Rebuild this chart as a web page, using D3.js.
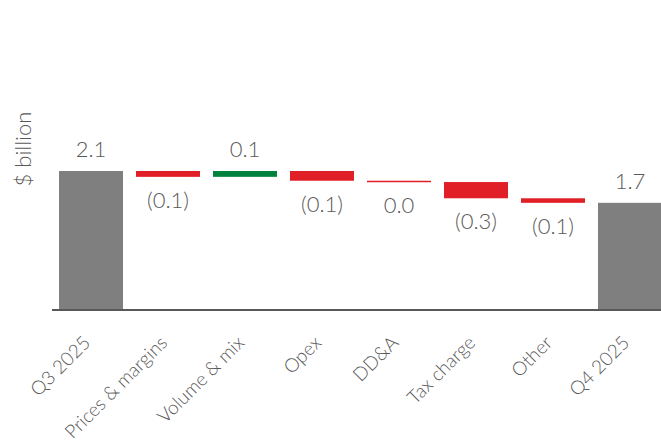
<!DOCTYPE html>
<html>
<head>
<meta charset="utf-8">
<script src="https://cdn.jsdelivr.net/npm/d3@7"></script>
<style>
  html, body { margin: 0; padding: 0; background: #fff; }
  svg { display: block; }
  text { font-family: "Lato", "DejaVu Sans", sans-serif; font-weight: 300; fill: #595959; }
</style>
</head>
<body>
<svg id="chart" width="661" height="447"></svg>
<script>
const categories = ["Q3 2025", "Prices & margins", "Volume & mix", "Opex", "DD&A", "Tax charge", "Other", "Q4 2025"];
const kinds      = ["total", "delta", "delta", "delta", "delta", "delta", "delta", "total"];
const values     = [2.14, -0.09, 0.09, -0.15, -0.02, -0.25, -0.07, 1.65];
const valueLabels = ["2.1", "(0.1)", "0.1", "(0.1)", "0.0", "(0.3)", "(0.1)", "1.7"];
const yAxisTitle = "$ billion";

const colors = { total: "#7f7f7f", up: "#00843d", down: "#e01f26" };

const svg = d3.select("#chart");

let running = 0;
const bars = categories.map((c, i) => {
  let start, end;
  if (kinds[i] === "total") { start = 0; end = values[i]; running = values[i]; }
  else { start = running; end = running + values[i]; running = end; }
  return { cat: c, kind: kinds[i], v: values[i], start, end, label: valueLabels[i] };
});

const x = d3.scaleBand().domain(categories).range([52.5, 668.5]).paddingInner(0.169).paddingOuter(0.0845);
const y = d3.scaleLinear().domain([0, 2.14]).range([310, 171]);

svg.append("g").selectAll("rect").data(bars).join("rect")
  .attr("x", d => x(d.cat))
  .attr("width", x.bandwidth())
  .attr("y", d => y(Math.max(d.start, d.end)))
  .attr("height", d => Math.max(1.5, Math.abs(y(d.start) - y(d.end))))
  .attr("fill", d => d.kind === "total" ? colors.total : (d.v >= 0 ? colors.up : colors.down));

svg.append("g").selectAll("text").data(bars).join("text")
  .attr("x", d => x(d.cat) + x.bandwidth() / 2)
  .attr("y", d => (d.kind === "total" || d.v >= 0)
      ? y(Math.max(d.start, d.end)) - 14
      : y(Math.min(d.start, d.end)) + 31)
  .attr("text-anchor", "middle")
  .attr("font-size", 22)
  .text(d => d.label);

const xAxis = d3.axisBottom(x).tickSize(0).tickPadding(0);
const gx = svg.append("g").attr("transform", "translate(0,310)").call(xAxis);
gx.select(".domain").attr("stroke", "#595959").attr("stroke-width", 2)
  .attr("d", "M52,0H661");
gx.selectAll(".tick text")
  .attr("font-size", 19)
  .attr("fill", "#595959")
  .attr("font-family", null)
  .attr("text-anchor", "end")
  .attr("dy", 0)
  .attr("y", 0)
  .attr("transform", "translate(0.5,34) rotate(-45)");

svg.append("text")
  .attr("transform", "translate(31,149) rotate(-90)")
  .attr("text-anchor", "middle")
  .attr("font-size", 22)
  .text(yAxisTitle);
</script>
</body>
</html>
